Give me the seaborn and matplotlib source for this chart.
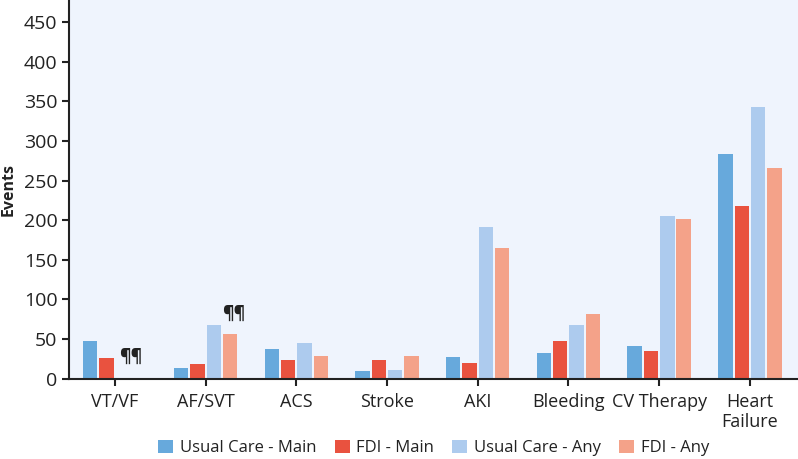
#!/usr/bin/env python3

import pandas as pd
import matplotlib.pyplot as plt
import seaborn as sns

# Data
categories = ['VT/VF', 'AF/SVT', 'ACS', 'Stroke', 'AKI', 'Bleeding', 'CV Therapy', 'Heart\nFailure']
series = ['Usual Care - Main', 'FDI - Main', 'Usual Care - Any', 'FDI - Any']
usual_main = [47, 14, 37, 10, 27, 33, 41, 284]
fdi_main = [26, 19, 23, 24, 20, 47, 35, 218]
usual_any = [0, 68, 45, 11, 192, 68, 205, 343]
fdi_any = [0, 57, 29, 29, 165, 82, 201, 266]
markers = {'VT/VF': '¶¶', 'AF/SVT': '¶¶'}

colors = ['#67a9dc', '#e9523f', '#adcbee', '#f4a289']

sns.set_theme(style='white')
plt.rcParams['font.family'] = ['Open Sans', 'DejaVu Sans']

rows = []
for name, vals in zip(series, [usual_main, fdi_main, usual_any, fdi_any]):
    for cat, v in zip(categories, vals):
        rows.append({'category': cat, 'series': name, 'events': v})
df = pd.DataFrame(rows)

fig, ax = plt.subplots(figsize=(7.98, 4.59), dpi=100)
fig.patch.set_facecolor('white')
ax.set_facecolor('#eff4fd')

sns.barplot(data=df, x='category', y='events', hue='series', hue_order=series,
            order=categories, palette=colors, saturation=1, width=0.72, gap=0.12,
            edgecolor='none', ax=ax)

# "¶¶" notes next to groups
ax.text(0.17, 27, markers['VT/VF'], fontsize=13, fontweight='bold',
        ha='center', va='center', color='#222222')
ax.text(1.31, 82, markers['AF/SVT'], fontsize=13, fontweight='bold',
        ha='center', va='center', color='#222222')

ax.set_ylim(0, 478)
ax.set_xlim(-0.5, 7.53)
ax.set_yticks(range(0, 451, 50))
ax.set_xlabel('')
ax.set_ylabel('Events', fontsize=11.5, fontweight='bold', labelpad=5, color='#222222')
ax.tick_params(axis='both', labelsize=13, colors='#222222', length=5, width=1.5,
               direction='out', bottom=True, left=True)
ax.tick_params(axis='y', labelsize=14)
ax.tick_params(axis='x', pad=5)
for s in ['top', 'right']:
    ax.spines[s].set_visible(False)
for s in ['left', 'bottom']:
    ax.spines[s].set_color('#222222')
    ax.spines[s].set_linewidth(1.5)

leg = ax.legend(loc='center', bbox_to_anchor=(0.5, -0.183), ncol=4, frameon=False,
                fontsize=12, handlelength=0.9, handleheight=0.9, handletextpad=0.4,
                columnspacing=1.1, borderaxespad=0)
for t in leg.get_texts():
    t.set_color('#222222')

plt.subplots_adjust(left=0.087, right=1.0, top=1.0, bottom=0.175)
plt.savefig('out.png', dpi=100)
plt.close()
